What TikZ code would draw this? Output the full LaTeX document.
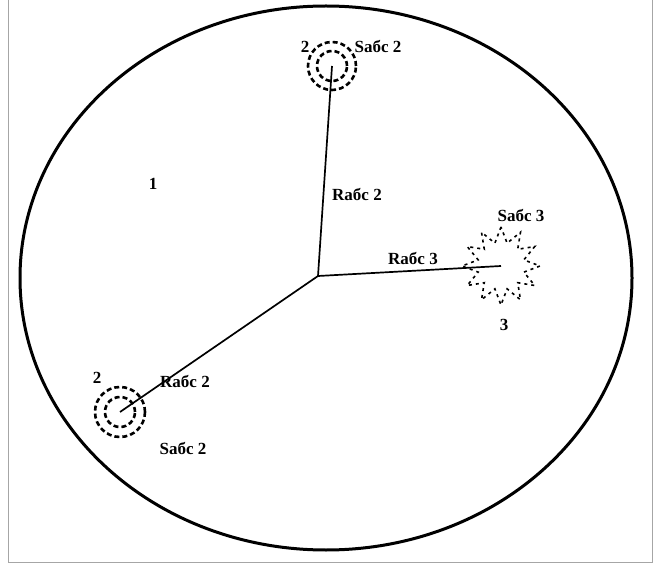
\documentclass[tikz,border=0pt]{standalone}
\usepackage{fontspec}
\setmainfont{Liberation Serif}
\usetikzlibrary{positioning,shapes.geometric}

\begin{document}
\begin{tikzpicture}[
    x=1pt, y=-1pt,
    font=\fontsize{17}{19}\selectfont\bfseries,
    lbl/.style={
        inner sep=1pt
    },
    ring/.style={
        circle,
        draw,
        dash pattern=on 5pt off 3pt,
        line width=2.6pt,
        inner sep=0pt
    },
    burst/.style={
        star,
        star points=12,
        star point ratio=1.65,
        draw,
        dash pattern=on 3pt off 4pt,
        line width=1.6pt,
        inner sep=0pt,
        minimum size=78pt
    },
    radius/.style={
        line width=1.7pt
    }
]
\useasboundingbox (0,0) rectangle (659,564);

% frame
\draw[gray!70, line width=1pt] (8,0) -- (8,562) -- (652,562) -- (652,0);

% region 1
\draw[line width=3pt] (326,278) ellipse [x radius=306, y radius=272];

\coordinate (hub) at (318,276);

% sources 2
\node[ring, minimum size=48pt] (top) at (332,66) {};
\node[ring, minimum size=30pt] at (top) {};
\node[ring, minimum size=50pt] (low) at (120,412) {};
\node[ring, minimum size=30pt] at (low) {};

% source 3
\node[burst] (star) at (501,266) {};

\draw[radius] (hub) -- (top.center);
\draw[radius] (hub) -- (low.center);
\draw[radius] (hub) -- (star.center);

% labels
\node[lbl] (one) at (153,184) {1};
\node[lbl] (ttop) at (305,47) {2};
\node[lbl] (stop) at (378,47) {Sабс 2};
\node[lbl] (rtop) at (357,194) {Rабс 2};
\node[lbl] (rstar) at (413,258) {Rабс 3};
\node[lbl] (sstar) at (521,215) {Sабс 3};
\node[lbl] (tstar) at (504,325) {3};
\node[lbl] (rlow) at (185,381) {Rабс 2};
\node[lbl] (tlow) at (97,378) {2};
\node[lbl] (slow) at (183,448) {Sабс 2};

\end{tikzpicture}
\end{document}
